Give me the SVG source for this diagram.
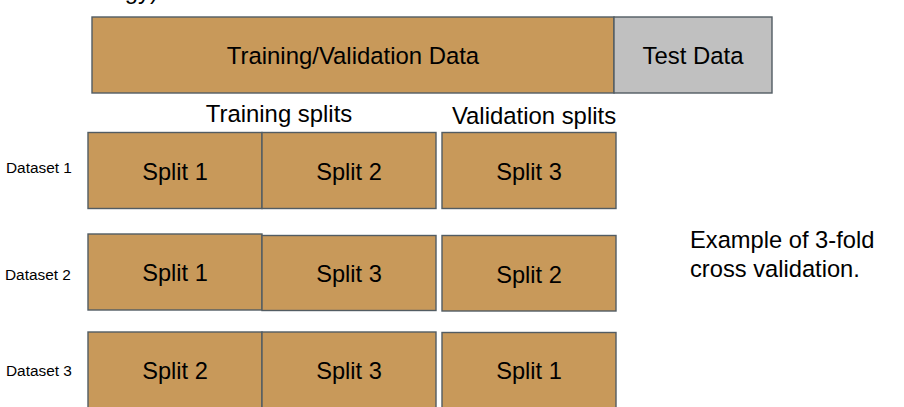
<svg xmlns="http://www.w3.org/2000/svg" width="904" height="407" viewBox="0 0 904 407">
<style>
.box{fill:#C8995A;stroke:#525C63;stroke-width:1.4}
.test{fill:#C0C0C0;stroke:#525C63;stroke-width:1.4}
.t{font-family:"Liberation Sans",Arial,sans-serif;font-size:23.9px;fill:#000;text-anchor:middle}
.s{font-family:"Liberation Sans",Arial,sans-serif;font-size:23.6px;fill:#000;text-anchor:middle}
.ds{font-family:"Liberation Sans",Arial,sans-serif;font-size:15.4px;fill:#000}
.note{font-family:"Liberation Sans",Arial,sans-serif;font-size:23.7px;fill:#000}
</style>
<rect width="904" height="407" fill="#fff"/>
<text class="t" x="158" y="-1" style="text-anchor:end">gy)</text>

<g id="trainval">
<rect class="box" x="92" y="17" width="522" height="76"/>
<text class="t" x="353" y="64">Training/Validation Data</text>
</g>
<g id="test">
<rect class="test" x="614" y="17" width="158" height="76"/>
<text class="t" x="693" y="64">Test Data</text>
</g>

<g id="hdr-training"><text class="t" x="279" y="122">Training splits</text></g>
<g id="hdr-validation"><text class="t" x="534" y="124">Validation splits</text></g>

<g id="dataset1-label"><text class="ds" x="6" y="173">Dataset 1</text></g>
<g id="d1-s1"><rect class="box" x="88" y="132.5" width="174" height="76"/><text class="s" x="175" y="180">Split 1</text></g>
<g id="d1-s2"><rect class="box" x="262" y="132.5" width="174" height="76"/><text class="s" x="349" y="180">Split 2</text></g>
<g id="d1-s3"><rect class="box" x="442" y="132.5" width="174" height="76"/><text class="s" x="529" y="180">Split 3</text></g>

<g id="dataset2-label"><text class="ds" x="5" y="280">Dataset 2</text></g>
<g id="d2-s1"><rect class="box" x="88" y="234" width="174" height="76"/><text class="s" x="175" y="281">Split 1</text></g>
<g id="d2-s3"><rect class="box" x="262" y="235.5" width="174" height="75"/><text class="s" x="349" y="282">Split 3</text></g>
<g id="d2-s2"><rect class="box" x="442" y="235.5" width="174" height="75.5"/><text class="s" x="529" y="283">Split 2</text></g>

<g id="dataset3-label"><text class="ds" x="6" y="376">Dataset 3</text></g>
<g id="d3-s2"><rect class="box" x="88" y="332" width="174" height="80"/><text class="s" x="175" y="379">Split 2</text></g>
<g id="d3-s3"><rect class="box" x="262" y="332" width="174" height="80"/><text class="s" x="349" y="379">Split 3</text></g>
<g id="d3-s1"><rect class="box" x="442" y="332.5" width="174" height="80"/><text class="s" x="529" y="379">Split 1</text></g>

<g id="note">
<text class="note" x="690" y="248">Example of 3-fold</text>
<text class="note" x="690" y="277">cross validation.</text>
</g>
</svg>
